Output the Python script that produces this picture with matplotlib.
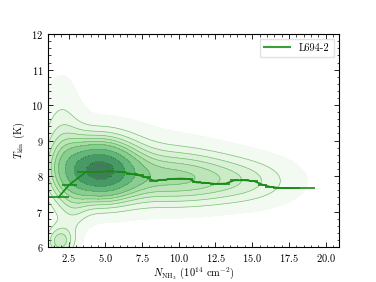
import numpy as np
import matplotlib
matplotlib.use("Agg")
import matplotlib.pyplot as plt
from matplotlib.ticker import MultipleLocator

plt.rcParams["font.family"] = ["cmr10", "DejaVu Serif"]
plt.rcParams["mathtext.fontset"] = "cm"
plt.rcParams["axes.formatter.use_mathtext"] = True

# density blobs: centre x, centre y, width x, width y, weight
blob_x = [4.5, 9.8, 15.0, 1.9, 2.0, 2.9, 6.0]
blob_y = [8.17, 7.95, 7.85, 6.15, 8.7, 7.0, 8.4]
blob_sx = [1.8, 3.0, 2.5, 0.7, 1.0, 0.7, 4.0]
blob_sy = [0.6, 0.55, 0.5, 0.3, 1.4, 0.5, 0.9]
blob_w = [1.0, 0.45, 0.2, 0.35, 0.22, 0.1, 0.1]
grid_xmax = 19.3

# running median with bin half-widths
med_x = [1.8, 2.55, 3.7, 4.5, 5.3, 6.1, 6.8, 7.3, 7.8, 8.3, 8.9, 9.5, 10.1, 10.7,
         11.2, 11.8, 12.5, 13.2, 13.8, 14.5, 15.1, 15.7, 16.2, 17.0, 18.2]
med_y = [7.40, 7.76, 8.12, 8.12, 8.13, 8.12, 8.06, 8.02, 7.96, 7.87, 7.89, 7.92, 7.93,
         7.92, 7.82, 7.81, 7.78, 7.79, 7.88, 7.88, 7.86, 7.76, 7.70, 7.66, 7.66]
med_dx = [0.7, 0.5, 0.6, 0.3, 0.3, 0.3, 0.4, 0.3, 0.3, 0.3, 0.3, 0.3, 0.3, 0.3,
          0.3, 0.3, 0.4, 0.3, 0.3, 0.3, 0.3, 0.3, 0.3, 0.6, 1.1]

fig = plt.figure(figsize=(3.76, 2.82), dpi=100)
ax = fig.add_axes([0.128, 0.124, 0.773, 0.755])

xx, yy = np.meshgrid(np.linspace(1.1, grid_xmax, 300), np.linspace(6, 12, 200))
zz = np.zeros_like(xx)
for bx, by, sx, sy, w in zip(blob_x, blob_y, blob_sx, blob_sy, blob_w):
    zz += w * np.exp(-0.5 * (((xx - bx) / sx) ** 2 + ((yy - by) / sy) ** 2))

# iso-proportion levels, like seaborn's kdeplot
flat = np.sort(zz.ravel())
cum = np.cumsum(flat)
cum /= cum[-1]
levels = [flat[np.searchsorted(cum, p)] for p in np.linspace(0.05, 0.95, 10)]
levels = levels + [zz.max()]

ax.contourf(xx, yy, zz, levels=levels, cmap="Greens", alpha=0.75)
ax.contour(xx, yy, zz, levels=levels[1:-1], colors="#5cb85c", linewidths=0.5, alpha=0.8)

ax.errorbar(med_x, med_y, xerr=med_dx, color="#188a18", lw=1.2, elinewidth=1.2,
            capsize=0)

handles = [plt.Line2D([], [], color="#3aa03a", lw=1.5)]
ax.legend(handles, ["L694-2"], loc="upper right", fontsize=7.5, fancybox=False,
          edgecolor="#dddddd", handlelength=2.5)

ax.set_xlim(1.1, 20.9)
ax.set_ylim(6, 12)
ax.xaxis.set_minor_locator(MultipleLocator(0.5))
ax.yaxis.set_minor_locator(MultipleLocator(0.2))
ax.tick_params(which="both", direction="in", top=True, right=True, labelsize=7.5)
ax.tick_params(which="major", length=3.5, width=0.6)
ax.tick_params(which="minor", length=1.8, width=0.5)
for s in ax.spines.values():
    s.set_linewidth(0.8)
ax.set_xlabel(r"$N_{\rm NH_3}$ ($10^{14}$ cm$^{-2}$)", fontsize=7.5, labelpad=1)
ax.set_ylabel(r"$T_{\rm kin}$ (K)", fontsize=7.5, labelpad=3)

fig.savefig("out.png", dpi=100)
